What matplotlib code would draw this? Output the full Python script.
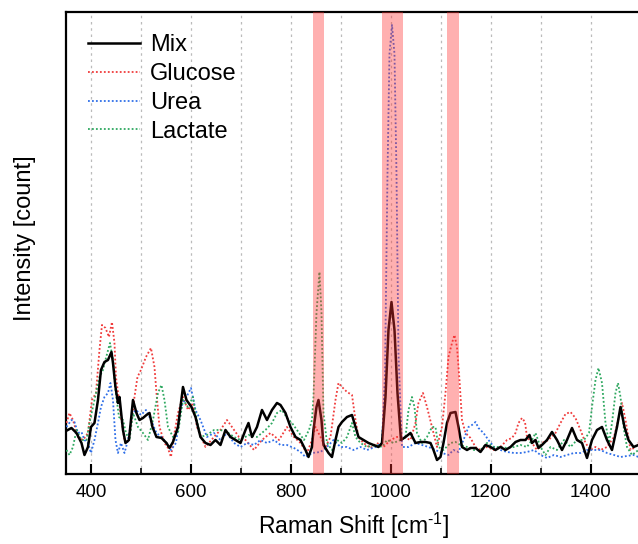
import matplotlib
matplotlib.use("Agg")
import numpy as np
import matplotlib.pyplot as plt

# ── Data (arbitrary counts) ─────────────────────────────────
mix_x = [350, 361, 371, 381, 387, 394, 400, 407, 414, 420, 427, 434, 441, 444, 449, 454, 457, 464,
         469, 476, 484, 491, 497, 504, 511, 517, 523, 531, 541, 551, 557, 564, 574, 584, 591, 601,
         609, 619, 629, 639, 649, 659, 669, 679, 689, 699, 709, 715, 722, 732, 742, 752, 762, 772,
         779, 789, 799, 809, 819, 829, 835, 842, 845, 851, 855, 861, 865, 875, 882, 889, 895, 902,
         912, 922, 929, 935, 945, 955, 965, 975, 982, 989, 995, 1001, 1007, 1013, 1020, 1029, 1039,
         1049, 1059, 1069, 1079, 1085, 1092, 1099, 1105, 1112, 1119, 1129, 1135, 1142, 1152, 1159,
         1169, 1179, 1189, 1199, 1209, 1219, 1229, 1239, 1249, 1259, 1269, 1277, 1282, 1289, 1295,
         1302, 1312, 1322, 1332, 1342, 1352, 1362, 1372, 1382, 1392, 1402, 1412, 1422, 1432, 1442,
         1452, 1459, 1467, 1475, 1485, 1495]
mix_y = [43, 46, 41, 31, 19, 27, 47, 51, 74, 104, 112, 114, 122, 111, 87, 71, 77, 44,
         31, 34, 74, 61, 54, 56, 59, 61, 47, 37, 36, 31, 26, 32, 47, 87, 74, 67,
         57, 37, 31, 29, 34, 29, 44, 37, 34, 31, 44, 51, 37, 47, 64, 54, 64, 71,
         69, 61, 47, 37, 34, 24, 17, 27, 44, 67, 74, 54, 29, 21, 17, 34, 47, 52,
         57, 59, 47, 37, 34, 31, 29, 27, 31, 77, 144, 172, 144, 81, 34, 37, 41,
         31, 32, 32, 31, 24, 14, 17, 31, 51, 61, 62, 47, 27, 24, 26,
         26, 22, 29, 27, 24, 27, 24, 27, 32, 34, 34, 39, 31, 34, 26,
         29, 34, 42, 34, 24, 34, 46, 34, 31, 16, 34, 44, 47, 34, 24,
         47, 67, 47, 34, 27, 29]

glucose_x = [351, 357, 364, 374, 384, 394, 402, 410, 417, 422, 429, 436, 442, 447, 450, 456, 460,
             467, 473, 480, 487, 493, 500, 510, 520, 527, 531, 537, 547, 553, 560, 567, 574, 584,
             594, 604, 612, 629, 646, 659, 672, 682, 696, 709, 726, 742, 759, 776, 792, 806, 819,
             832, 842, 849, 859, 869, 879, 889, 895, 902, 912, 922, 929, 935, 945, 959, 972, 985,
             999, 1012, 1025, 1039, 1049, 1055, 1064, 1072, 1082, 1092, 1102, 1109, 1115, 1122,
             1127, 1132, 1137, 1142, 1149, 1159, 1169, 1179, 1192, 1206, 1219, 1232, 1242, 1249,
             1255, 1262, 1268, 1272, 1282, 1292, 1302, 1315, 1329, 1339, 1349, 1359, 1369, 1379,
             1389, 1399, 1409, 1419, 1432, 1446, 1456, 1462, 1469, 1479, 1489, 1495]
glucose_y = [51, 61, 54, 37, 34, 41, 74, 81, 124, 149, 146, 137, 152, 131, 97, 74, 57,
             34, 31, 47, 77, 97, 104, 117, 126, 107, 81, 47, 31, 27, 17, 41, 61, 77,
             64, 71, 47, 27, 37, 44, 54, 47, 37, 34, 24, 34, 41, 34, 47, 37, 31,
             21, 34, 47, 37, 27, 37, 74, 91, 87, 82, 79, 54, 37, 31, 26, 31, 27,
             34, 37, 37, 34, 51, 71, 81, 67, 47, 27, 47, 81, 117, 131,
             139, 127, 94, 54, 41, 36, 27, 24, 27, 24, 27, 34, 36, 41,
             51, 56, 52, 37, 31, 24, 31, 34, 41, 51, 60, 62, 56, 44,
             31, 24, 27, 24, 27, 37, 57, 71, 54, 24, 27, 31]

urea_x = [351, 361, 367, 374, 381, 387, 394, 400, 407, 414, 420, 427, 434, 439, 444, 449, 454,
          460, 467, 474, 484, 490, 500, 510, 520, 531, 541, 551, 560, 570, 580, 591, 600, 609,
          619, 632, 646, 659, 672, 686, 699, 712, 726, 739, 752, 766, 779, 792, 806, 819, 829,
          842, 859, 872, 885, 899, 912, 925, 939, 952, 969, 982, 988, 993, 997, 1002, 1007,
          1011, 1015, 1022, 1035, 1049, 1062, 1075, 1089, 1102, 1115, 1125, 1135, 1145, 1155,
          1162, 1169, 1175, 1185, 1195, 1206, 1219, 1232, 1246, 1259, 1272, 1286, 1299, 1312,
          1326, 1339, 1352, 1366, 1379, 1392, 1406, 1419, 1432, 1446, 1459, 1472, 1485, 1495]
urea_y = [47, 54, 52, 41, 42, 34, 31, 21, 34, 51, 67, 77, 81, 91, 74, 34, 21,
          31, 21, 34, 61, 64, 59, 64, 54, 41, 37, 31, 24, 31, 67, 77, 86, 64,
          54, 37, 41, 34, 41, 31, 27, 31, 29, 34, 31, 34, 29, 29, 26, 22, 17,
          21, 22, 27, 34, 27, 27, 24, 27, 24, 27, 31, 100, 300, 420, 449, 420,
          300, 120, 27, 27, 31, 29, 27, 24, 21, 19, 24, 22, 34, 47,
          49, 52, 46, 41, 34, 27, 24, 22, 21, 21, 22, 24, 19, 16,
          19, 17, 19, 21, 21, 24, 24, 24, 21, 19, 17, 18, 19, 17]

lactate_x = [351, 357, 364, 371, 381, 391, 397, 407, 417, 424, 430, 438, 444, 449, 456, 464, 470,
             477, 484, 494, 504, 514, 524, 534, 541, 547, 554, 564, 574, 584, 594, 604, 609, 619,
             632, 646, 659, 672, 686, 699, 715, 732, 749, 762, 772, 782, 792, 802, 812, 826, 836,
             842, 845, 851, 857, 861, 865, 872, 882, 892, 902, 912, 922, 929, 939, 952, 969, 982,
             992, 1005, 1019, 1029, 1035, 1042, 1047, 1052, 1062, 1072, 1082, 1089, 1095, 1105,
             1119, 1129, 1139, 1152, 1166, 1179, 1192, 1206, 1219, 1232, 1246, 1259, 1272, 1282,
             1289, 1299, 1309, 1319, 1332, 1346, 1359, 1372, 1386, 1396, 1402, 1409, 1415, 1422,
             1429, 1436, 1442, 1449, 1454, 1459, 1466, 1472, 1482, 1495]
lactate_y = [24, 19, 27, 44, 34, 34, 51, 74, 97, 104, 116, 131, 114, 84, 57, 54, 41,
             34, 61, 47, 41, 34, 54, 81, 89, 74, 47, 37, 41, 74, 67, 77, 61, 37,
             39, 44, 44, 42, 37, 34, 39, 37, 44, 51, 61, 64, 56, 51, 44, 34, 44,
             54, 77, 161, 202, 161, 61, 31, 24, 34, 31, 37, 51, 37, 31, 27, 29, 27,
             34, 31, 34, 37, 64, 77, 67, 41, 31, 37, 47, 47, 27, 24,
             31, 32, 29, 27, 24, 24, 31, 27, 27, 26, 27, 29, 27, 34,
             41, 27, 19, 27, 24, 34, 27, 34, 34, 41, 67, 94, 106, 91,
             51, 31, 51, 81, 91, 77, 44, 27, 19, 24]

# highlighted bands (cm^-1)
bands = [(844, 867), (983, 1025), (1112, 1137)]

# ── Figure ──────────────────────────────────────────────────
plt.rcParams["font.family"] = ["Liberation Sans", "DejaVu Sans"]
plt.rcParams["mathtext.fontset"] = "custom"
plt.rcParams["mathtext.rm"] = "Liberation Sans"
plt.rcParams["mathtext.it"] = "Liberation Sans:italic"
plt.rcParams["mathtext.default"] = "regular"

fig = plt.figure(figsize=(6.38, 5.44), dpi=100)
ax = fig.add_axes([0.1034, 0.1287, 0.9013, 0.8493])

ax.plot(mix_x, mix_y, color="black", lw=1.8, label="Mix", zorder=4)
ax.plot(glucose_x, glucose_y, color="#f03c3c", lw=1.3, ls=(0, (1, 1.2)), label="Glucose", zorder=3)
ax.plot(urea_x, urea_y, color="#2f6fe8", lw=1.3, ls=(0, (1, 1.2)), label="Urea", zorder=3)
ax.plot(lactate_x, lactate_y, color="#2ea860", lw=1.3, ls=(0, (1, 1.2)), label="Lactate", zorder=3)

for lo, hi in bands:
    ax.axvspan(lo, hi, color="#ff3030", alpha=0.38, lw=0, zorder=5)

ax.set_xlim(350, 1500)
ax.set_ylim(0, 462)
ax.set_xticks([400, 600, 800, 1000, 1200, 1400])
ax.set_xticks([500, 700, 900, 1100, 1300], minor=True)
ax.set_yticks([])
ax.tick_params(axis="x", which="major", direction="in", length=7, width=1.5, labelsize=13.5, pad=7)
ax.tick_params(axis="x", which="minor", direction="in", length=4, width=1.2)
ax.grid(True, axis="x", which="both", color="#bbbbbb", ls=(0, (2, 3)), lw=0.9, zorder=0)
for s in ax.spines.values():
    s.set_linewidth(1.6)

ax.set_xlabel("Raman Shift [cm$^{\\text{-1}}$]", fontsize=16.5, labelpad=7)
ax.set_ylabel("Intensity [count]", fontsize=17, labelpad=20)
ax.yaxis.set_label_coords(-0.052, 0.51)

ax.legend(loc="upper left", frameon=False, fontsize=17, handlelength=2.2,
          handletextpad=0.42, labelspacing=0.29, borderaxespad=0, borderpad=0,
          bbox_to_anchor=(0.038, 0.952))

plt.savefig("out.png", dpi=100)
plt.close()
